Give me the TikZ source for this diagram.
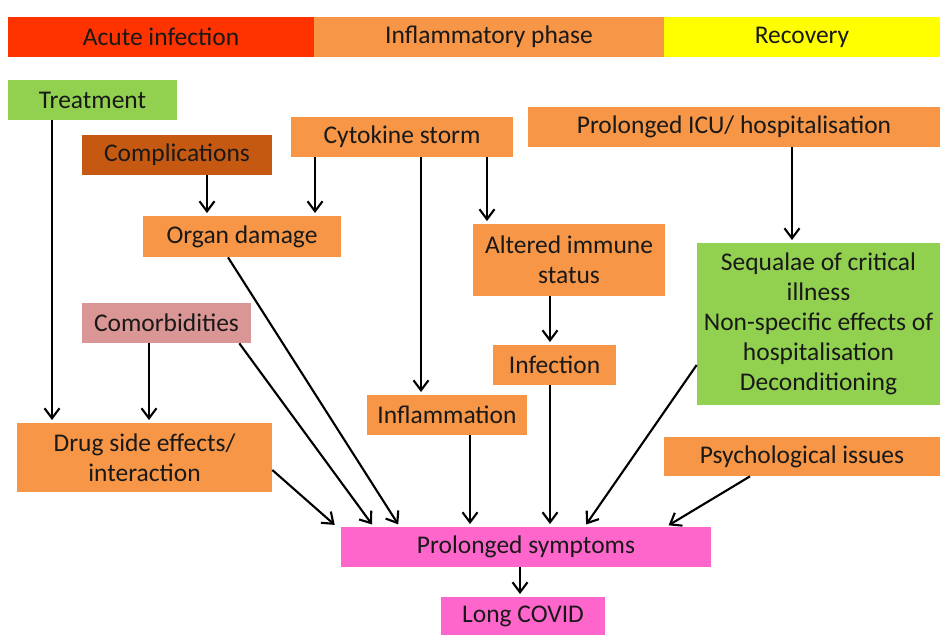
\documentclass[tikz,border=0pt]{standalone}
\usepackage{fontspec}
\setmainfont{Carlito}
\usepackage{tikz}
\usetikzlibrary{positioning,arrows.meta}

\definecolor{acutered}{HTML}{FF3300}
\definecolor{phaseorange}{HTML}{F79646}
\definecolor{recyellow}{HTML}{FFFF00}
\definecolor{boxgreen}{HTML}{92D050}
\definecolor{boxbrown}{HTML}{C65911}
\definecolor{boxpink}{HTML}{D99694}
\definecolor{boxmagenta}{HTML}{FF66CC}

\tikzset{
  box/.style={inner sep=2pt, minimum height=0.8cm, align=center, text=black!90,
    font=\fontsize{14.5}{17}\selectfont},
  orangebox/.style={box, fill=phaseorange},
  greenbox/.style={box, fill=boxgreen},
  arr/.style={-{Straight Barb[length=2mm,width=3mm]}, line width=1.2pt, shorten >=1.5pt}
}

\begin{document}
\begin{tikzpicture}[x=0.02cm, y=-0.02cm]
\useasboundingbox (0,0) rectangle (940,635);
% phases
\node[box, fill=acutered, minimum width=6.12cm] (acute) at (161,37) {Acute infection};
\node[box, fill=phaseorange, minimum width=7cm] (inflam) at (489,37) {Inflammatory phase};
\node[box, fill=recyellow, minimum width=5.52cm] (recov) at (802,37) {Recovery};

% nodes
\node[greenbox, minimum width=3.38cm] (treat) at (92.5,100) {Treatment};
\node[box, fill=boxbrown, minimum width=3.8cm] (compl) at (177,155) {Complications};
\node[orangebox, minimum width=4.44cm] (cyto) at (402,137) {Cytokine storm};
\node[orangebox, minimum width=8.24cm] (icu) at (734,127) {Prolonged ICU/ hospitalisation};
\node[orangebox, minimum width=3.96cm, minimum height=0.82cm] (organ) at (242,236.5) {Organ damage};
\node[orangebox, minimum width=3.84cm, minimum height=1.44cm] (immune) at (569,260) {Altered immune\\status};
\node[greenbox, minimum width=4.86cm, minimum height=3.24cm] (sequel) at (818.5,324) {Sequalae of critical\\illness\\Non-specific effects of\\hospitalisation\\Deconditioning};
\node[box, fill=boxpink, minimum width=3.38cm] (comorb) at (166.5,323) {Comorbidities};
\node[orangebox, minimum width=2.46cm] (infect) at (554.5,365) {Infection};
\node[orangebox, minimum width=3.2cm] (inflamm) at (447,415) {Inflammation};
\node[orangebox, minimum width=5.1cm, minimum height=1.38cm] (drug) at (144.5,457.5) {Drug side effects/\\interaction};
\node[orangebox, minimum width=5.52cm, minimum height=0.78cm] (psych) at (802,456.5) {Psychological issues};
\node[box, fill=boxmagenta, minimum width=7.4cm] (sympt) at (526,547) {Prolonged symptoms};
\node[box, fill=boxmagenta, minimum width=3.28cm, minimum height=0.76cm] (longcovid) at (523,616) {Long COVID};

% vertical arrows
\draw[arr] ([xshift=-0.81cm]treat.south) -- ([xshift=-0.81cm]treat.south |- drug.north);
\draw[arr] ([xshift=-0.35cm]comorb.south) -- ([xshift=-0.35cm]comorb.south |- drug.north);
\draw[arr] ([xshift=0.6cm]compl.south) -- ([xshift=0.6cm]compl.south |- organ.north);
\draw[arr] ([xshift=-1.74cm]cyto.south) -- ([xshift=-1.74cm]cyto.south |- organ.north);
\draw[arr] ([xshift=0.38cm]cyto.south) -- ([xshift=0.38cm]cyto.south |- inflamm.north);
\draw[arr] ([xshift=1.7cm]cyto.south) -- ([xshift=1.7cm]cyto.south |- immune.north);
\draw[arr] ([xshift=-0.38cm]immune.south) -- ([xshift=-0.38cm]immune.south |- infect.north);
\draw[arr] ([xshift=1.16cm]icu.south) -- ([xshift=1.16cm]icu.south |- sequel.north);
\draw[arr] ([xshift=0.46cm]inflamm.south) -- ([xshift=0.46cm]inflamm.south |- sympt.north);
\draw[arr] ([xshift=-0.09cm]infect.south) -- ([xshift=-0.09cm]infect.south |- sympt.north);
\draw[arr] ([xshift=-0.12cm]sympt.south) -- ([xshift=-0.12cm]sympt.south |- longcovid.north);

% slanted arrows
\draw[arr] ([xshift=-0.28cm]organ.south) -- ([xshift=1.18cm]sympt.north west);
\draw[arr] ([xshift=-0.24cm]comorb.south east) -- ([xshift=0.66cm]sympt.north west);
\draw[arr] ([yshift=-0.25cm]drug.east) -- ([xshift=-0.08cm]sympt.north west);
\draw[arr] ([yshift=-0.82cm]sequel.west) -- ([xshift=4.88cm]sympt.north west);
\draw[arr] ([xshift=-1.04cm]psych.south) -- ([xshift=-0.9cm]sympt.north east);
\end{tikzpicture}
\end{document}
